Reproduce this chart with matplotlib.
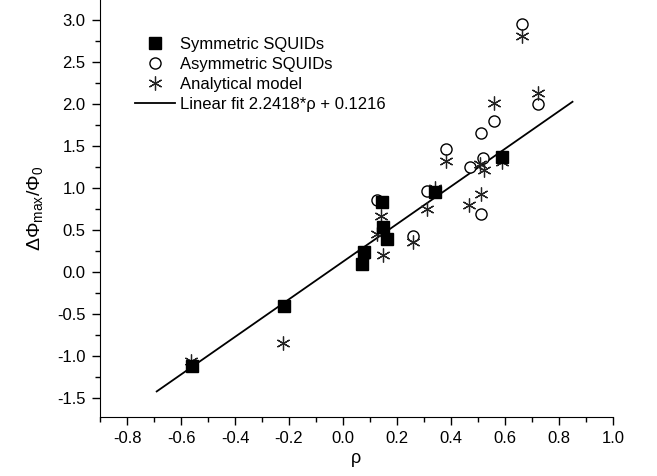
import numpy as np
import matplotlib
matplotlib.use("Agg")
import matplotlib.pyplot as plt
from matplotlib.ticker import MultipleLocator

plt.rcParams['font.family'] = ['Liberation Sans', 'DejaVu Sans']
plt.rcParams['axes.unicode_minus'] = False
plt.rcParams['mathtext.fontset'] = 'custom'
plt.rcParams['mathtext.rm'] = 'Liberation Sans'
plt.rcParams['mathtext.it'] = 'Liberation Sans:italic'

# symmetric SQUIDs (filled squares)
sym_x = [-0.56, -0.22, 0.069, 0.078, 0.143, 0.149, 0.162, 0.341, 0.59]
sym_y = [-1.12, -0.41, 0.097, 0.236, 0.83, 0.535, 0.39, 0.953, 1.37]

# asymmetric SQUIDs (open circles)
asym_x = [0.127, 0.26, 0.31, 0.38, 0.47, 0.51, 0.51, 0.52, 0.56, 0.662, 0.721]
asym_y = [0.86, 0.43, 0.965, 1.47, 1.25, 1.66, 0.686, 1.36, 1.80, 2.95, 2.0]

# analytical model (asterisks)
model_x = [-0.564, -0.221, 0.075, 0.125, 0.14, 0.149, 0.26, 0.31, 0.341, 0.38,
           0.467, 0.51, 0.507, 0.522, 0.56, 0.59, 0.662, 0.721]
model_y = [-1.06, -0.85, 0.196, 0.455, 0.66, 0.2, 0.356, 0.755, 1.0, 1.32,
           0.794, 0.93, 1.29, 1.21, 2.01, 1.31, 2.81, 2.13]

# linear fit
slope = 2.2418
intercept = 0.1216
fit_x = np.array([-0.69, 0.85])

fig = plt.figure(figsize=(6.57, 4.76), dpi=100)
ax = fig.add_axes([100 / 657, (476 - 417) / 476, 513 / 657, 417 / 476])

ax.plot(fit_x, slope * fit_x + intercept, color='black', lw=1.3,
        label="Linear fit 2.2418*ρ + 0.1216", zorder=2)
ax.plot(asym_x, asym_y, 'o', ms=8, mfc='white', mec='black', mew=1.0,
        label="Asymmetric SQUIDs", zorder=3)
ax.plot(model_x, model_y, ls='none', marker=(6, 2, 0), ms=10, mec='#222222',
        mew=0.9, label="Analytical model", zorder=4)
ax.plot(sym_x, sym_y, 's', ms=8, color='black', label="Symmetric SQUIDs",
        zorder=5)

ax.set_xlim(-0.9, 1.0)
ax.set_ylim(-1.73, 3.24)
ax.xaxis.set_major_locator(MultipleLocator(0.2))
ax.xaxis.set_minor_locator(MultipleLocator(0.1))
ax.yaxis.set_major_locator(MultipleLocator(0.5))
ax.yaxis.set_minor_locator(MultipleLocator(0.25))
ax.xaxis.set_major_formatter(plt.FormatStrFormatter('%.1f'))
ax.yaxis.set_major_formatter(plt.FormatStrFormatter('%.1f'))

ax.spines['top'].set_visible(False)
ax.spines['right'].set_visible(False)
ax.tick_params(which='major', direction='out', length=5.8, width=1,
               labelsize=12, pad=4.5)
ax.tick_params(which='minor', direction='out', length=3.6, width=1)

ax.set_xlabel("ρ", fontsize=13, labelpad=3)
ax.set_ylabel(r"$\Delta\Phi_{\mathrm{max}}/\Phi_0$", fontsize=14, labelpad=9)

handles, labels = ax.get_legend_handles_labels()
order = [3, 1, 2, 0]
ax.legend([handles[i] for i in order], [labels[i] for i in order],
          loc='upper left', bbox_to_anchor=(0.068, 0.912), frameon=False,
          fontsize=12, numpoints=1, handlelength=2.4, handletextpad=0.3,
          labelspacing=0.3, borderpad=0, borderaxespad=0)

fig.savefig("out.png", dpi=100)
